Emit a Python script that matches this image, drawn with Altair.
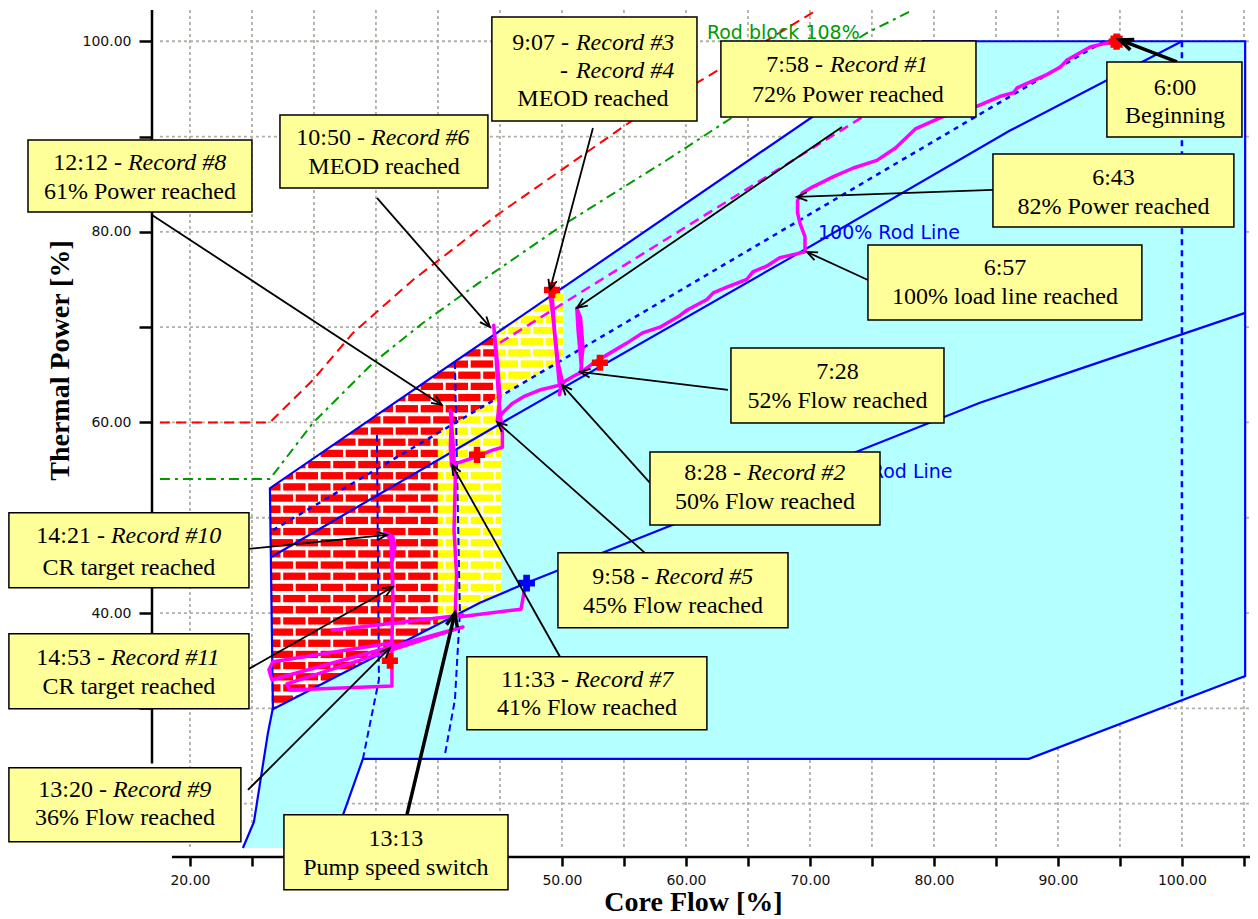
import math
import numpy as np
import pandas as pd
import altair as alt

# ---------------- values (data units) ----------------
x_ticks = [20, 25, 30, 35, 40, 45, 50, 55, 60, 65, 70, 75, 80, 85, 90, 95, 100, 105]
y_ticks = [20, 30, 40, 50, 60, 70, 80, 90, 100]
x_labelled = [20, 50, 60, 70, 80, 90, 100]
y_labelled = [40, 60, 80, 100]

# operating domain (cyan)
cyan_x = [26.45, 79.1, 105.1, 105.1, 87.66, 33.95, 32.34, 31.4, 24.27, 25.16, 26.29, 26.69]
cyan_y = [53.1, 100.0, 100.0, 33.4, 24.7, 24.7, 18.8, 15.35, 15.35, 18.08, 27.42, 30.04]
# drawn boundary of the domain
bnd_x = [24.27, 25.16, 26.29, 26.69, 26.45, 79.1, 105.1, 105.1, 87.66, 33.95, 32.34, 31.4]
bnd_y = [15.35, 18.08, 27.42, 30.04, 53.1, 100.0, 100.0, 33.4, 24.7, 24.7, 18.8, 15.35]
top_x = [26.45, 79.1]
top_y = [53.1, 100.0]

load_x = [26.6, 45.2, 68.6, 86.1, 100.0]
load_y = [45.9, 60.0, 77.4, 90.6, 100.0]
low_x = [26.6, 43.39, 47.18, 83.71, 105.1]
low_y = [29.85, 41.08, 43.18, 62.07, 71.5]
rod_x = [26.69, 93.7]
rod_y = [48.7, 100.0]
v100_x = [100.0, 100.0]
v100_y = [100.0, 30.85]
dv1_x = [35.08, 35.24, 33.95]
dv1_y = [58.7, 33.0, 24.7]
dv2_x = [41.37, 41.77, 41.37, 40.56]
dv2_y = [66.34, 40.0, 30.9, 25.13]
mag_x = [45.0, 74.8]
mag_y = [68.36, 92.5]
red_x = [17.58, 26.45, 29.92, 33.15, 37.98, 45.0, 55.73, 61.69, 70.56]
red_y = [60.0, 60.0, 64.46, 69.39, 74.95, 81.98, 91.74, 96.25, 103.28]
grn_x = [17.58, 26.45, 29.92, 34.76, 38.79, 43.63, 49.84, 58.47, 63.79, 74.6, 78.31]
grn_y = [54.07, 54.07, 59.95, 66.25, 70.44, 74.95, 80.51, 87.54, 92.05, 100.87, 103.28]

# brick areas: x limits
red_right, red_upper_right = 40.0, 44.6
yel_lower_right, yel_upper_right = 45.1, 50.1

# trajectory (three pieces)
trA_x = [94.8, 93.9, 92.6, 90.7, 90.2, 89.1, 86.7, 86.4, 85.3, 83.5, 80.9, 78.5, 76.9, 75.4,
         73.5, 71.9, 70.2, 69.4, 69.0, 69.0, 69.2, 69.6, 69.6, 67.6, 66.5, 65.4, 64.9, 63.3,
         62.2, 61.7, 60.1, 59.5, 57.9, 56.5, 55.2, 53.9, 52.5, 51.7, 51.5, 51.7, 51.5, 51.2,
         51.3, 51.6, 51.0, 50.2, 50.0, 49.8, 50.0, 49.7, 49.4, 49.2, 49.0, 49.3, 49.6, 49.8,
         48.2, 46.9, 46.0, 45.2, 44.8, 45.0, 44.8, 44.5, 44.7, 44.9, 45.2, 45.2, 44.4, 43.1,
         41.5, 41.1, 41.0, 41.1, 41.0, 41.2, 41.4, 41.3, 41.5, 41.4, 41.8, 46.7, 47.0]
trA_y = [100.0, 99.8, 99.4, 98.0, 97.3, 96.5, 95.1, 94.6, 94.2, 93.2, 92.2, 90.8, 88.8, 87.5,
         86.7, 85.8, 84.7, 84.1, 83.3, 82.0, 80.9, 79.5, 77.9, 77.3, 76.4, 75.8, 75.0, 74.2,
         73.6, 72.9, 71.8, 71.2, 70.0, 69.4, 68.3, 67.3, 66.2, 65.4, 65.2, 67.9, 71.0, 72.0,
         69.7, 65.3, 64.9, 64.3, 63.9, 62.9, 64.5, 66.2, 69.7, 73.6, 73.9, 70.8, 66.6, 63.9,
         63.4, 62.7, 62.0, 61.0, 60.3, 62.7, 66.2, 70.2, 66.6, 62.4, 58.9, 57.4, 57.1, 56.4,
         55.7, 55.5, 57.4, 61.0, 61.3, 58.2, 54.0, 48.7, 44.0, 40.0, 39.6, 40.4, 42.6]
trB_x = [31.5, 42.0]
trB_y = [38.2, 39.8]
trC_x = [36.37, 26.69, 26.37, 26.61, 42.02, 27.82, 28.06, 36.29, 36.29, 36.37, 36.29, 36.53,
         36.37, 35.73, 36.21, 36.37]
trC_y = [36.88, 34.89, 34.05, 33.0, 38.54, 32.56, 31.93, 32.35, 36.88, 41.4, 45.28, 46.95,
         48.0, 48.42, 47.69, 42.74]

# record markers
rec_x = [49.2, 53.06, 43.15, 36.13]
rec_y = [73.9, 66.27, 56.6, 34.99]
begin_x = [94.73]
begin_y = [99.96]
blue_x = [47.15]
blue_y = [43.13]

# annotation boxes
box_x1 = [6.94, 27.26, 44.35, 62.82, 93.95, 84.76, 74.68, 63.63, 57.10, 49.68, 42.34, 5.40, 5.40, 5.40, 27.58]
box_x2 = [25.00, 44.03, 60.89, 83.39, 104.84, 104.19, 96.77, 80.81, 75.65, 68.23, 61.69, 24.76, 24.76, 24.11, 45.65]
box_y1 = [89.64, 92.27, 102.55, 100.03, 97.83, 88.17, 78.63, 67.82, 56.91, 46.32, 35.41, 50.52, 37.82, 23.76, 18.83]
box_y2 = [82.09, 84.61, 91.63, 92.05, 89.95, 80.51, 70.76, 59.95, 49.25, 38.45, 27.75, 42.65, 29.95, 16.00, 10.96]

txt_c = ["61% Power reached", "MEOD reached", "MEOD reached", "72% Power reached", "6:00", "Beginning",
         "6:43", "82% Power reached", "6:57", "100% load line reached", "7:28", "52% Flow reached",
         "50% Flow reached", "45% Flow reached", "41% Flow reached", "CR target reached",
         "CR target reached", "36% Flow reached", "13:13", "Pump speed switch"]
txt_c_x = [15.97, 35.65, 52.5, 73.06, 99.44, 99.44, 94.48, 94.48, 85.73, 85.73, 72.22, 72.22,
           66.37, 58.95, 52.02, 15.08, 15.08, 14.76, 36.61, 36.61]
txt_c_y = [84.19, 86.81, 93.95, 94.36, 95.1, 92.16, 85.66, 82.62, 76.21, 73.17, 65.3, 62.26,
           51.66, 40.74, 30.04, 44.73, 32.25, 18.49, 16.29, 13.24]

txt_r = ["12:12 -", "10:50 -", "9:07 -", "-", "7:58 -", "8:28 -", "9:58 -", "11:33 -",
         "14:21 -", "14:53 -", "13:20 -"]
txt_r_x = [14.52, 34.11, 50.56, 50.48, 71.05, 64.44, 57.02, 50.56, 13.15, 13.15, 13.31]
txt_r_y = [87.23, 89.85, 99.82, 96.88, 97.51, 54.71, 43.78, 33.0, 48.09, 35.3, 21.44]

txt_i = ["Record #8", "Record #6", "Record #3", "Record #4", "Record #1", "Record #2",
         "Record #5", "Record #7", "Record #10", "Record #11", "Record #9"]
txt_i_x = [15.0, 34.6, 51.13, 51.13, 71.61, 64.92, 57.5, 51.05, 13.63, 13.63, 13.79]
txt_i_y = txt_r_y

# arrows: tail -> tip
arr_x0 = [16.94, 35.08, 52.5, 72.58, 99.6, 84.76, 74.68, 63.39, 57.1, 56.69, 49.84, 24.76, 24.76, 24.68, 37.5]
arr_y0 = [81.77, 83.56, 90.89, 91.0, 97.83, 84.4, 74.95, 63.41, 53.65, 46.31, 35.41, 46.73, 34.14, 21.44, 18.82]
arr_x1 = [40.32, 44.19, 49.03, 51.21, 95.0, 68.95, 69.76, 51.45, 50.0, 44.76, 41.13, 35.89, 36.37, 36.13, 41.37]
arr_y1 = [61.84, 70.02, 73.9, 72.02, 100.14, 83.66, 77.89, 65.3, 63.94, 60.06, 55.55, 48.2, 42.74, 36.34, 40.0]
arr_thick = [0, 0, 0, 0, 1, 0, 0, 0, 0, 0, 0, 0, 0, 0, 1]

# in-chart labels
lab_rodblock = ("Rod block 108%", 61.69, 100.87)
lab_rodline = ("100% Rod Line", 70.65, 79.88)
lab_minrod = ("Rod Line", 81.5, 54.81)

# ---------------- layout / style ----------------
X_MIN, X_MAX = 16.94, 105.49
Y_MIN, Y_MAX = 14.4, 103.28
W, H = 1098, 847
PXX = W / (X_MAX - X_MIN)
PXY = H / (Y_MAX - Y_MIN)

CYAN = "#b4ffff"
BLUE = "#0000ff"
MAG = "#ff00ff"
GRID = "#b0b0a8"
BOXC = "#ffff99"
SERIF = "Liberation Serif"
SANS = "DejaVu Sans"

xs = alt.Scale(domain=[X_MIN, X_MAX], nice=False, zero=False)
ys = alt.Scale(domain=[Y_MIN, Y_MAX], nice=False, zero=False)

x_expr = "indexof(%s, datum.value) >= 0 ? format(datum.value, '.2f') : ''" % str(x_labelled)
y_expr = "indexof(%s, datum.value) >= 0 ? format(datum.value, '.2f') : ''" % str(y_labelled)

x_axis = alt.Axis(values=x_ticks, labelExpr=x_expr,
                  grid=False, domain=False, tickSize=9, tickWidth=2.5, tickColor="black",
                  labelFont=SANS, labelFontSize=14, labelColor="#111111", labelPadding=7,
                  labelFlush=False, labelOverlap=False,
                  title="Core Flow [%]", titleFont=SERIF, titleFontSize=28, titleFontWeight="bold",
                  titleColor="black", titleX=541, titleY=53, titleBaseline="alphabetic", titleAlign="center")
y_axis = alt.Axis(values=y_ticks, labelExpr=y_expr,
                  grid=False, domain=False, tickSize=13, tickWidth=2.5, tickColor="black",
                  labelFont=SANS, labelFontSize=14, labelColor="#111111", labelPadding=8,
                  labelFlush=False, labelOverlap=False,
                  title="Thermal Power [%]", titleFont=SERIF, titleFontSize=28, titleFontWeight="bold",
                  titleColor="black", titleX=-84, titleY=350, titleAngle=270,
                  titleBaseline="alphabetic", titleAlign="center")


def ex(f="x"):
    return alt.X(f"{f}:Q", scale=xs, axis=x_axis)


def ey(f="y"):
    return alt.Y(f"{f}:Q", scale=ys, axis=y_axis)


def path_df(xv, yv, seg=0):
    return pd.DataFrame({"x": xv, "y": yv, "o": list(range(len(xv))), "s": seg})


def path_layer(df, **mk):
    return alt.Chart(df).mark_line(**mk).encode(
        x=ex(), y=ey(), order=alt.Order("o:Q"), detail=alt.Detail("s:N"))


# --- brick texture clipping ---
def clip(poly, xmin, xmax, ymin, ymax):
    def step(pts, inside, inter):
        out = []
        n = len(pts)
        for i in range(n):
            cur, prev = pts[i], pts[i - 1]
            ci, pi = inside(cur), inside(prev)
            if ci:
                if not pi:
                    out.append(inter(prev, cur))
                out.append(cur)
            elif pi:
                out.append(inter(prev, cur))
        return out

    def ix(p, q, xv):
        t = (xv - p[0]) / (q[0] - p[0])
        return (xv, p[1] + t * (q[1] - p[1]))

    def iy(p, q, yv):
        t = (yv - p[1]) / (q[1] - p[1])
        return (p[0] + t * (q[0] - p[0]), yv)

    pts = list(poly)
    for inside, inter in [
        (lambda p: p[0] >= xmin, lambda p, q: ix(p, q, xmin)),
        (lambda p: p[0] <= xmax, lambda p, q: ix(p, q, xmax)),
        (lambda p: p[1] >= ymin, lambda p, q: iy(p, q, ymin)),
        (lambda p: p[1] <= ymax, lambda p, q: iy(p, q, ymax)),
    ]:
        if not pts:
            return []
        pts = step(pts, inside, inter)
    return pts


def area(pts):
    s = 0.0
    for i in range(len(pts)):
        x0, y0 = pts[i - 1]
        x1, y1 = pts[i]
        s += x0 * y1 - x1 * y0
    return abs(s) / 2


BR_PX, BR_LEN, BR_PY, BR_H = 2.016, 1.80, 1.172, 0.766
BR_X0, BR_YTOP0 = 27.52, 53.62


def bricks(poly):
    rows = []
    bid = 0
    for k in range(-23, 21):
        top = BR_YTOP0 + k * BR_PY
        bot = top - BR_H
        off = BR_X0 + (k % 2) * BR_PX / 2
        for i in range(-3, 15):
            x0 = off + i * BR_PX
            pts = clip(poly, x0, x0 + BR_LEN, bot, top)
            if len(pts) >= 3 and area(pts) > 1e-4:
                for j, (px, py) in enumerate(pts):
                    rows.append({"x": px, "y": py, "o": j, "s": bid})
                bid += 1
    return pd.DataFrame(rows)


T = lambda v: float(np.interp(v, top_x, top_y))
D = lambda v: float(np.interp(v, rod_x, rod_y))
L = lambda v: float(np.interp(v, low_x, low_y))

red_poly = [(top_x[0], top_y[0]), (red_upper_right, T(red_upper_right)), (red_upper_right, D(red_upper_right)),
            (red_right, D(red_right)), (red_right, L(red_right)), (low_x[0], low_y[0])]
yel_poly = [(red_right, D(red_right)), (red_upper_right, D(red_upper_right)),
            (red_upper_right, T(red_upper_right)), (yel_upper_right, T(yel_upper_right)),
            (yel_upper_right, D(yel_upper_right)), (yel_lower_right, D(yel_lower_right)),
            (yel_lower_right, L(yel_lower_right)), (red_right, L(red_right))]

layers = []

gv = pd.DataFrame({"x": x_ticks, "y1": 15.45, "y2": Y_MAX})
layers.append(alt.Chart(gv).mark_rule(color=GRID, strokeDash=[3, 3], strokeWidth=1.8).encode(
    x=ex("x"), y=ey("y1"), y2="y2:Q"))
gh = pd.DataFrame({"y": y_ticks, "x1": 17.58, "x2": X_MAX})
layers.append(alt.Chart(gh).mark_rule(color=GRID, strokeDash=[3, 3], strokeWidth=1.8).encode(
    y=ey(), x=ex("x1"), x2="x2:Q"))

# regions
layers.append(path_layer(path_df(cyan_x, cyan_y), fill=CYAN, stroke="transparent", strokeWidth=0))
for poly, col in [(red_poly, "#ff0000"), (yel_poly, "#ffff00")]:
    layers.append(path_layer(path_df([p[0] for p in poly], [p[1] for p in poly]),
                             fill="white", stroke="transparent", strokeWidth=0))
    layers.append(path_layer(bricks(poly), fill=col, stroke="transparent", strokeWidth=0))

# lines of the map
layers.append(path_layer(path_df(bnd_x, bnd_y), color=BLUE, strokeWidth=2.2))
layers.append(path_layer(path_df(load_x, load_y), color=BLUE, strokeWidth=2.2))
layers.append(path_layer(path_df(low_x, low_y), color=BLUE, strokeWidth=2.2))
layers.append(path_layer(path_df(rod_x, rod_y), color=BLUE, strokeWidth=2.5, strokeDash=[5, 5]))
layers.append(path_layer(path_df(v100_x, v100_y), color=BLUE, strokeWidth=2.5, strokeDash=[6, 5]))
layers.append(path_layer(path_df(dv1_x, dv1_y), color=BLUE, strokeWidth=2, strokeDash=[7, 4]))
layers.append(path_layer(path_df(dv2_x, dv2_y), color=BLUE, strokeWidth=2, strokeDash=[7, 4]))
layers.append(path_layer(path_df(mag_x, mag_y), color=MAG, strokeWidth=2.5, strokeDash=[10, 6]))
layers.append(path_layer(path_df(red_x, red_y), color="#ff0000", strokeWidth=2, strokeDash=[10, 6]))
layers.append(path_layer(path_df(grn_x, grn_y), color="#009a00", strokeWidth=2, strokeDash=[10, 5, 3, 5]))

# in-chart labels
for (t, lx, ly), col, al in [(lab_rodblock, "#009a00", "left"), (lab_rodline, BLUE, "left"),
                             (lab_minrod, BLUE, "right")]:
    layers.append(alt.Chart(pd.DataFrame({"t": [t], "x": [lx], "y": [ly]})).mark_text(
        font=SANS, fontSize=19, color=col, align=al, baseline="middle").encode(x=ex(), y=ey(), text="t:N"))

# trajectory
traj = pd.concat([path_df(trA_x, trA_y, 0), path_df(trB_x, trB_y, 1), path_df(trC_x, trC_y, 2)])
layers.append(path_layer(traj, color=MAG, strokeWidth=3.5, strokeJoin="round", strokeCap="round"))

# markers
layers.append(alt.Chart(pd.DataFrame({"x": begin_x, "y": begin_y})).mark_point(
    shape="square", filled=True, color="#ff0000", size=150, opacity=1).encode(x=ex(), y=ey()))
layers.append(alt.Chart(pd.DataFrame({"x": rec_x + begin_x, "y": rec_y + begin_y})).mark_point(
    shape="cross", filled=True, color="#ff0000", size=260, opacity=1).encode(x=ex(), y=ey()))
layers.append(alt.Chart(pd.DataFrame({"x": blue_x, "y": blue_y})).mark_point(
    shape="cross", filled=True, color=BLUE, size=280, opacity=1).encode(x=ex(), y=ey()))

# arrows
adf = pd.DataFrame({"x0": arr_x0, "y0": arr_y0, "x1": arr_x1, "y1": arr_y1, "k": arr_thick})
adf["w"] = np.where(adf["k"] == 1, 3.5, 1.8)
adf["sz"] = np.where(adf["k"] == 1, 700, 420)
adf["a"] = [math.degrees(math.atan2(-(b1 - b0) * PXY, (a1 - a0) * PXX)) % 360
            for a0, b0, a1, b1 in zip(arr_x0, arr_y0, arr_x1, arr_y1)]
layers.append(alt.Chart(adf).mark_rule(color="black").encode(
    x=ex("x0"), y=ey("y0"), x2="x1:Q", y2="y1:Q", strokeWidth=alt.StrokeWidth("w:Q", scale=None)))
layers.append(alt.Chart(adf).mark_point(shape="M -1 -0.42 L 0 0 L -1 0.42", filled=False, color="black",
                                        opacity=1, strokeJoin="miter").encode(
    x=ex("x1"), y=ey("y1"), angle=alt.Angle("a:Q", scale=None), size=alt.Size("sz:Q", scale=None),
    strokeWidth=alt.StrokeWidth("w:Q", scale=None)))

# axis lines
layers.append(alt.Chart(pd.DataFrame({"x": [X_MIN], "y1": [24.2], "y2": [Y_MAX]})).mark_rule(
    color="black", strokeWidth=2.5).encode(x=ex(), y=ey("y1"), y2="y2:Q"))
layers.append(alt.Chart(pd.DataFrame({"y": [Y_MIN], "x1": [18.55], "x2": [X_MAX]})).mark_rule(
    color="black", strokeWidth=2.5).encode(y=ey(), x=ex("x1"), x2="x2:Q"))

# boxes
bdf = pd.DataFrame({"x1": box_x1, "x2": box_x2, "y1": box_y1, "y2": box_y2})
layers.append(alt.Chart(bdf).mark_rect(fill=BOXC, stroke="black", strokeWidth=1.5).encode(
    x=ex("x1"), x2="x2:Q", y=ey("y1"), y2="y2:Q"))

# box texts
for tl, tx, ty, al, st in [(txt_c, txt_c_x, txt_c_y, "center", "normal"),
                           (txt_r, txt_r_x, txt_r_y, "right", "normal"),
                           (txt_i, txt_i_x, txt_i_y, "left", "italic")]:
    layers.append(alt.Chart(pd.DataFrame({"t": tl, "x": tx, "y": ty})).mark_text(
        font=SERIF, fontSize=24, fontStyle=st, color="black", align=al, baseline="middle").encode(
        x=ex(), y=ey(), text="t:N"))

chart = alt.layer(*layers).properties(
    width=W, height=H,
    padding={"left": 144, "top": 2, "right": 0, "bottom": 60},
    autosize=alt.AutoSizeParams(type="none"),
    background="white",
).configure_view(strokeWidth=0)

chart.save("out.html", embed_options={"renderer": "svg", "actions": False})
